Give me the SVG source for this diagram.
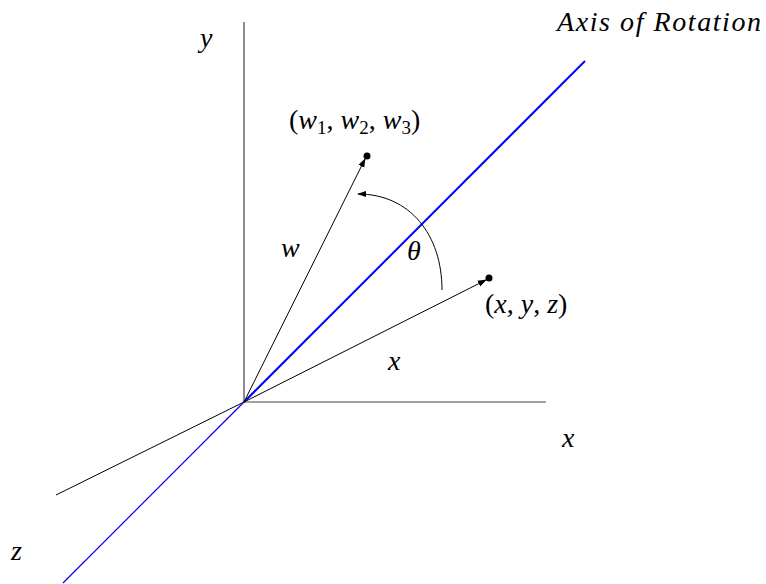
<svg xmlns="http://www.w3.org/2000/svg" width="766" height="584" viewBox="0 0 766 584">
<defs>
<style>
.t{font-family:"Liberation Serif",serif;font-style:italic;font-size:28px;fill:#000}
.r{font-style:normal}
.ax{stroke:#444;stroke-width:1.2;fill:none}
.v{stroke:#000;stroke-width:1;fill:none}
.b{stroke:#0000ff;fill:none}
</style>
<marker id="ah" viewBox="0 0 10 10" refX="9" refY="5" markerWidth="9" markerHeight="9" markerUnits="userSpaceOnUse" orient="auto"><path d="M0,1.5 L10,5 L0,8.5 Z" fill="#000"/></marker>
</defs>
<rect width="766" height="584" fill="#fff"/>
<g id="connectors">
<line class="ax" x1="244" y1="402" x2="244" y2="22"/>
<line class="ax" x1="244" y1="402" x2="546" y2="402"/>
<line class="v" x1="244" y1="402" x2="56" y2="495" stroke-width="1.3"/>
<line class="b" x1="244" y1="402" x2="585" y2="61" stroke-width="2"/>
<line class="b" x1="244" y1="402" x2="63" y2="583" stroke-width="1.2"/>
<line class="v" x1="244" y1="402" x2="486" y2="280" marker-end="url(#ah)"/>
<line class="v" x1="244" y1="402" x2="365" y2="159" marker-end="url(#ah)"/>
<path class="v" d="M442,290 C442,235 410,194 358,194" stroke-width="1.3" marker-end="url(#ah)"/>
</g>
<g id="point-w"><circle cx="367" cy="156" r="3.5" fill="#000"/></g>
<g id="point-x"><circle cx="489" cy="278" r="3.5" fill="#000"/></g>
<g id="labels">
<text class="t" x="200" y="47">y</text>
<text class="t" x="289" y="129"><tspan class="r">(</tspan>w<tspan font-size="19" dy="5" class="r">1</tspan><tspan dy="-5" class="r">, </tspan>w<tspan font-size="19" dy="5" class="r">2</tspan><tspan dy="-5" class="r">, </tspan>w<tspan font-size="19" dy="5" class="r">3</tspan><tspan dy="-5" class="r">)</tspan></text>
<text class="t" x="281" y="257">w</text>
<text class="t" x="407" y="260">θ</text>
<text class="t" x="485" y="313"><tspan class="r">(</tspan>x<tspan class="r">, </tspan>y<tspan class="r">, </tspan>z<tspan class="r">)</tspan></text>
<text class="t" x="388" y="370">x</text>
<text class="t" x="562" y="447">x</text>
<text class="t" x="11" y="560">z</text>
<text class="t" x="557" y="31" textLength="204" lengthAdjust="spacing">Axis of Rotation</text>
</g>
</svg>
